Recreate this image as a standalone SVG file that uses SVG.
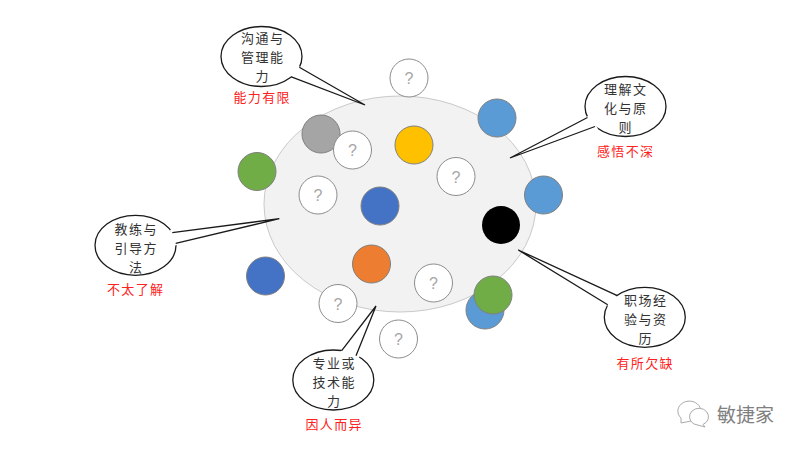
<svg xmlns="http://www.w3.org/2000/svg" width="800" height="450" viewBox="0 0 800 450">
<style>
text{font-family:"Noto Sans CJK SC","Liberation Sans",sans-serif;text-anchor:middle}
.el{fill:#fff;stroke:#1a1a1a;stroke-width:1.3}
.tf{fill:#fff;stroke:none}
.tl{fill:none;stroke:#1a1a1a;stroke-width:1.3}
.t{font-size:13px;letter-spacing:1.4px;fill:#333}
.r{font-size:13px;letter-spacing:1.4px;fill:#ff2020}
.c{stroke:#7f7f7f;stroke-width:1}
.q{fill:#fff;stroke:#8c8c8c;stroke-width:1}
.qm{font-family:"Liberation Sans",sans-serif;font-size:16px;fill:#a6a6a6}
.wm{fill:#fff;stroke:#a0a0a0;stroke-width:.9}
</style>
<rect width="800" height="450" fill="#fff"/>
<ellipse id="field" cx="400" cy="204" rx="136" ry="108" fill="#f2f2f2" stroke="#c9c9c9" stroke-width="1"/>
<g id="people">
<g id="p1"><circle class="q" cx="409" cy="78" r="19"/><text class="qm" x="409" y="84">?</text></g>
<circle id="p2" class="c" cx="497" cy="118" r="19" fill="#5b9bd5"/>
<circle id="p3" class="c" cx="321" cy="134" r="19" fill="#a5a5a5"/>
<g id="p4"><circle class="q" cx="352.500" cy="150" r="19"/><text class="qm" x="352.500" y="156">?</text></g>
<circle id="p5" class="c" cx="414" cy="145" r="19" fill="#ffc000"/>
<g id="p6"><circle class="q" cx="456" cy="176.500" r="19"/><text class="qm" x="456" y="182.500">?</text></g>
<circle id="p7" class="c" cx="257" cy="171.500" r="19" fill="#70ad47"/>
<g id="p8"><circle class="q" cx="318" cy="195" r="19"/><text class="qm" x="318" y="201">?</text></g>
<circle id="p9" class="c" cx="380" cy="206" r="19" fill="#4472c4"/>
<circle id="p10" class="c" cx="543.500" cy="195" r="19" fill="#5b9bd5"/>
<circle id="p11" cx="501" cy="225" r="19" fill="#000"/>
<circle id="p12" class="c" cx="265.500" cy="276" r="19" fill="#4472c4"/>
<circle id="p13" class="c" cx="371.500" cy="264" r="19" fill="#ed7d31"/>
<g id="p14"><circle class="q" cx="433.500" cy="283" r="19"/><text class="qm" x="433.500" y="289">?</text></g>
<g id="p15"><circle class="q" cx="338" cy="303.500" r="19"/><text class="qm" x="338" y="309.500">?</text></g>
<g id="p16"><circle class="q" cx="398.500" cy="339" r="19"/><text class="qm" x="398.500" y="345">?</text></g>
<circle id="p17" class="c" cx="485" cy="310" r="19" fill="#5b9bd5"/>
<circle id="p18" class="c" cx="493" cy="295" r="19" fill="#70ad47"/>
</g>
<g id="callouts">
<g id="c1"><ellipse class="el" cx="261.500" cy="56.500" rx="40.500" ry="30"/><path class="tf" d="M297 65L365 105L288 76Z"/><path class="tl" d="M299.300 67.300L365 105L290.700 76.700"/>
<text class="t" x="262.700" y="43">沟通与<tspan x="262.700" dy="19">管理能</tspan><tspan x="262.700" dy="19">力</tspan></text>
<text class="r" x="262.200" y="101.500">能力有限</text></g>
<g id="c2"><ellipse class="el" cx="625.500" cy="106.500" rx="40.500" ry="30"/><path class="tf" d="M590 115L510 158L598 129Z"/><path class="tl" d="M587.500 117.500L510 158L595 126.500"/>
<text class="t" x="625.700" y="94">理解文<tspan x="625.700" dy="19">化与原</tspan><tspan x="625.700" dy="19">则</tspan></text>
<text class="r" x="625.700" y="156">感悟不深</text></g>
<g id="c3"><ellipse class="el" cx="135.500" cy="245.300" rx="40.500" ry="30"/><path class="tf" d="M170 230L279.300 218.700L173 246Z"/><path class="tl" d="M172.300 232.700L279.300 218.700L175.700 243.300"/>
<text class="t" x="136.200" y="234">教练与<tspan x="136.200" dy="19">引导方</tspan><tspan x="136.200" dy="19">法</tspan></text>
<text class="r" x="135.700" y="294">不太了解</text></g>
<g id="c4"><ellipse class="el" cx="333.300" cy="380" rx="40.500" ry="30"/><path class="tf" d="M339 354L376 306L359 358Z"/><path class="tl" d="M341.700 350.700L376 306L356 355.700"/>
<text class="t" x="334.200" y="368">专业或<tspan x="334.200" dy="19">技术能</tspan><tspan x="334.200" dy="19">力</tspan></text>
<text class="r" x="334.200" y="429">因人而异</text></g>
<g id="c5"><ellipse class="el" cx="644.800" cy="317.300" rx="40.500" ry="30"/><path class="tf" d="M620 298L518.300 250L610 307Z"/><path class="tl" d="M617.300 295.700L518.300 250L607.700 304.700"/>
<text class="t" x="645.700" y="305">职场经<tspan x="645.700" dy="19">验与资</tspan><tspan x="645.700" dy="19">历</tspan></text>
<text class="r" x="645.200" y="368">有所欠缺</text></g>
</g>
<g id="watermark">
<path class="wm" d="M681 418A11.500 10 0 1 1 691 421L681 423Z"/>
<path class="wm" d="M694 424A9.500 8.500 0 1 1 703 424.500L705 427Z"/>
<text x="745.500" y="422" font-size="19" fill="#808080">敏捷家</text>
</g>
</svg>
